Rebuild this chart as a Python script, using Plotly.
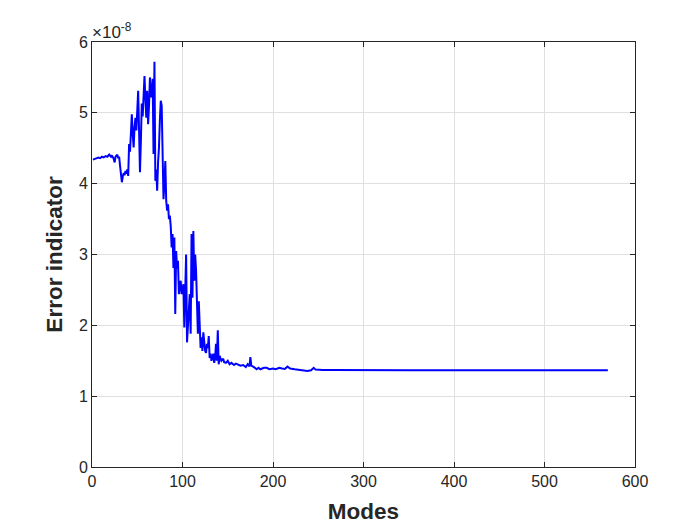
import plotly.graph_objects as go

# Data (error indicator in units of 1e-8)
modes = [1, 3, 5, 7, 9, 11, 13, 15, 17, 19, 21, 22, 24, 25, 26, 28, 29, 30, 31, 32,
         33, 34, 35, 36, 37, 38, 39, 40, 41, 42, 43, 44, 45, 46, 47, 48, 49, 50, 51, 52,
         53, 54, 55, 56, 57, 58, 59, 60, 61, 62, 63, 64, 65, 66, 67, 68, 69, 70, 71, 72,
         73, 74, 75, 76, 77, 78, 79, 80, 81, 82, 83, 84, 85, 86, 87, 88, 89, 90, 91, 92,
         93, 94, 95, 96, 97, 98, 99, 100, 101, 102, 103, 104, 105, 106, 107, 108, 109, 110, 111, 112,
         113, 114, 115, 116, 117, 118, 119, 120, 121, 122, 123, 124, 125, 126, 127, 128, 129, 130, 131, 132,
         133, 134, 135, 136, 137, 138, 139, 140, 141, 142, 143, 145, 146, 148, 150, 152, 154, 157, 159, 161,
         164, 167, 170, 172, 174, 175, 176, 179, 182, 184, 186, 190, 193, 196, 200, 203, 207, 210, 213, 216,
         219, 224, 231, 235, 238, 242, 245, 247, 250, 255, 265, 280, 300, 350, 400, 450, 500, 550, 570]
error_e8 = [4.34, 4.35, 4.36, 4.37, 4.36, 4.38, 4.37, 4.39, 4.38, 4.41, 4.38, 4.40, 4.35, 4.30, 4.38, 4.41, 4.36, 4.38, 4.25, 4.15,
            4.02, 4.10, 4.15, 4.12, 4.18, 4.14, 4.20, 4.11, 4.56, 4.45, 4.70, 4.98, 4.70, 4.51, 4.80, 4.93, 4.75, 5.00, 5.31, 4.75,
            4.16, 4.60, 5.13, 4.95, 5.27, 5.52, 5.20, 4.93, 5.31, 4.84, 5.10, 5.50, 5.22, 5.30, 5.48, 4.42, 5.72, 4.04, 4.20, 3.90,
            4.30, 4.51, 4.90, 5.17, 5.10, 4.28, 3.78, 4.00, 4.32, 3.76, 3.62, 3.71, 3.50, 3.55, 3.40, 3.10, 3.29, 2.81, 3.24, 2.16,
            3.05, 2.80, 2.91, 2.44, 2.55, 2.63, 2.44, 2.50, 2.58, 1.97, 2.40, 3.00, 1.76, 2.06, 2.20, 2.44, 1.88, 3.29, 2.39, 3.33,
            2.63, 3.00, 2.77, 2.30, 1.88, 2.34, 1.90, 1.68, 1.83, 1.64, 1.90, 1.74, 1.64, 1.61, 1.74, 1.68, 1.85, 1.54, 1.60, 1.50,
            1.54, 1.60, 1.47, 1.54, 1.74, 1.50, 1.93, 1.45, 1.57, 1.52, 1.50, 1.53, 1.48, 1.47, 1.50, 1.45, 1.47, 1.44, 1.46, 1.45,
            1.43, 1.44, 1.41, 1.45, 1.42, 1.55, 1.43, 1.41, 1.38, 1.40, 1.38, 1.40, 1.40, 1.38, 1.39, 1.38, 1.40, 1.39, 1.384, 1.417,
            1.39, 1.38, 1.37, 1.365, 1.356, 1.365, 1.40, 1.375, 1.372, 1.37, 1.368, 1.366, 1.366, 1.365, 1.365, 1.365, 1.365, 1.365, 1.365]

x_ticks = [0, 100, 200, 300, 400, 500, 600]
y_ticks = [0, 1, 2, 3, 4, 5, 6]

FONT = "Liberation Sans, Arial, Helvetica, sans-serif"
AX = "#262626"

fig = go.Figure()
fig.add_trace(go.Scatter(x=modes, y=error_e8, mode="lines",
                         line=dict(color="#0000ff", width=2), showlegend=False))

axis_common = dict(showline=True, linecolor=AX, linewidth=1, mirror="allticks",
                   ticks="inside", ticklen=5, tickcolor=AX, showgrid=True,
                   gridcolor="#e0e0e0", gridwidth=1, zeroline=False,
                   tickfont=dict(family=FONT, size=16, color=AX))

fig.update_xaxes(range=[0, 600], tickvals=x_ticks,
                 title=dict(text="<b>Modes</b>", font=dict(family=FONT, size=22.5, color=AX), standoff=14),
                 **axis_common)
fig.update_yaxes(range=[0, 6], tickvals=y_ticks,
                 title=dict(text="<b>Error indicator</b>", font=dict(family=FONT, size=22.5, color=AX), standoff=10),
                 **axis_common)

fig.add_annotation(text="×10<sup>-8</sup>", xref="paper", yref="paper", x=0, y=1,
                   xanchor="left", yanchor="bottom", showarrow=False, xshift=-2, yshift=-2,
                   font=dict(family=FONT, size=17, color=AX))

fig.update_layout(width=700, height=525, paper_bgcolor="white", plot_bgcolor="white",
                  margin=dict(l=84, r=73, t=34, b=66), font=dict(family=FONT, color=AX))

fig.write_html("out.html")
